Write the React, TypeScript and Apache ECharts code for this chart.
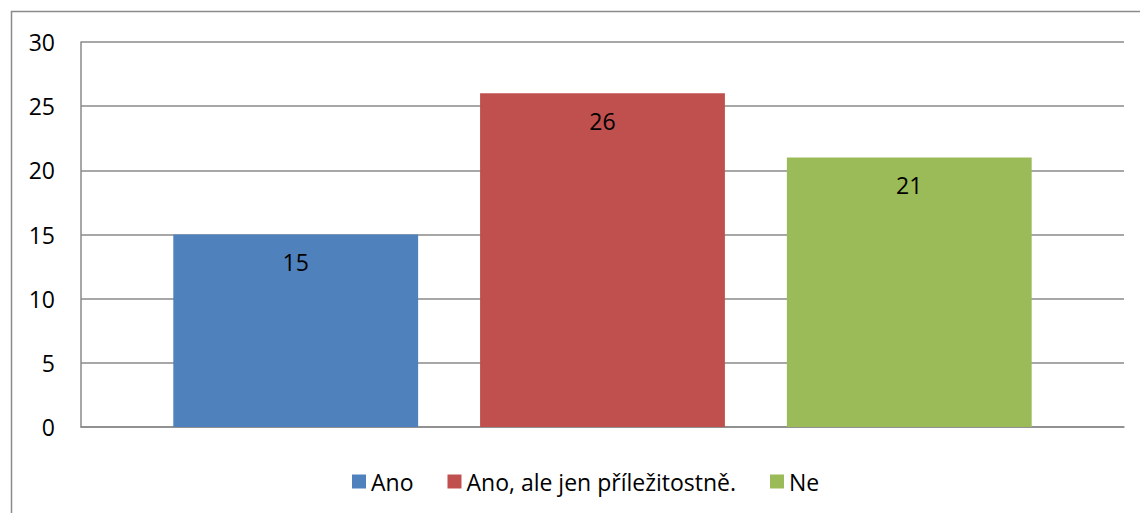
import React, { useEffect, useRef } from "react";
import * as echarts from "echarts";

const categories = [""];
const seriesNames = ["Ano", "Ano, ale jen příležitostně.", "Ne"];
const seriesValues = [[15], [26], [21]];
const seriesColors = ["#4F81BD", "#C0504D", "#9BBB59"];

export default function App() {
  const ref = useRef<HTMLDivElement>(null);
  useEffect(() => {
    const chart = echarts.init(ref.current!, null, { renderer: "svg" });
    const font = "'Open Sans', 'Noto Sans', sans-serif";
    chart.setOption({
      animation: false,
      textStyle: { fontFamily: font },
      graphic: [
        {
          type: "rect",
          shape: { x: 11.5, y: 11.5, width: 1150, height: 530 },
          style: { fill: "none", stroke: "#8a8a8a", lineWidth: 1.5 },
          silent: true,
        },
      ],
      grid: { left: 81, top: 42, right: 16, bottom: 86, containLabel: false },
      legend: {
        data: seriesNames,
        top: 465,
        left: 347,
        itemWidth: 14,
        itemHeight: 14,
        itemGap: 34,
        icon: "rect",
        textStyle: { fontSize: 23, color: "#000", fontFamily: font },
      },
      xAxis: {
        type: "category",
        data: categories,
        axisTick: { show: false },
        axisLabel: { show: false },
        axisLine: { lineStyle: { color: "#8a8a8a", width: 1.5 } },
      },
      yAxis: {
        type: "value",
        min: 0,
        max: 30,
        interval: 5,
        axisLine: { show: true, lineStyle: { color: "#8a8a8a", width: 1.5 } },
        axisTick: { show: false },
        axisLabel: { fontSize: 23, color: "#000", margin: 26, fontFamily: font },
        splitLine: { lineStyle: { color: "#8a8a8a", width: 1.5 } },
      },
      series: seriesNames.map((name, i) => ({
        name,
        type: "bar",
        data: seriesValues[i],
        barCategoryGap: "17.7%",
        barGap: "25.3%",
        itemStyle: { color: seriesColors[i] },
        label: {
          show: true,
          position: "insideTop",
          distance: 16,
          fontSize: 23,
          color: "#000",
          fontFamily: font,
        },
      })),
    });
    return () => chart.dispose();
  }, []);
  return (
    <div
      ref={ref}
      style={{ position: "absolute", left: 0, top: 0, width: 1140, height: 513 }}
    />
  );
}
